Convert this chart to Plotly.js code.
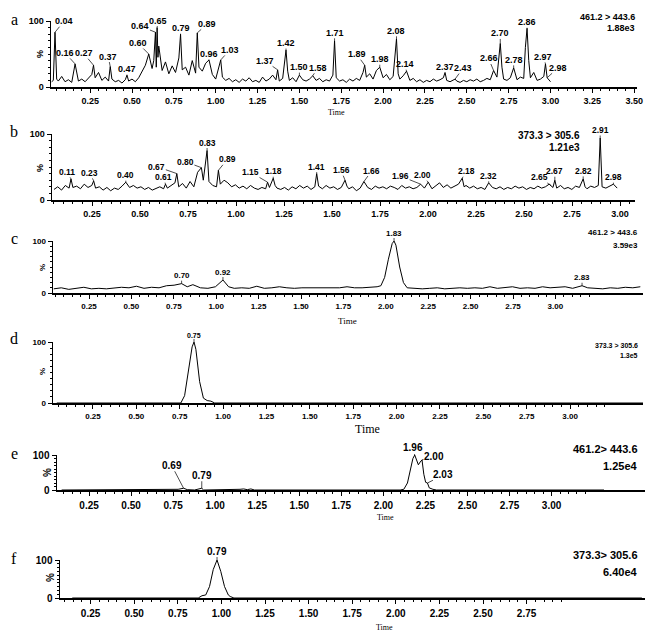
<!DOCTYPE html>
<html><head><meta charset="utf-8">
<script src="https://cdn.plot.ly/plotly-3.0.1.min.js"></script>
<style>html,body{margin:0;padding:0;background:#fff}#chart{width:646px;height:632px}</style>
</head><body><div id="chart"></div>
<script>
// ---------------- DATA ----------------
// Panel a: 461.2 > 443.6, 1.88e3
const aTime = [0.02,0.03,0.04,0.05,0.06,0.08,0.10,0.12,0.14,0.16,
 0.18,0.20,0.22,0.24,0.26,0.27,0.28,0.30,0.32,0.34,
 0.36,0.37,0.38,0.40,0.42,0.44,0.46,0.47,0.48,0.50,
 0.52,0.54,0.56,0.58,0.60,0.62,0.63,0.64,0.645,0.65,
 0.655,0.66,0.68,0.70,0.72,0.74,0.76,0.78,0.79,0.80,
 0.82,0.84,0.86,0.88,0.89,0.90,0.92,0.94,0.96,0.98,
 1.00,1.02,1.03,1.04,1.06,1.08,1.10,1.12,1.14,1.16,
 1.18,1.20,1.22,1.24,1.26,1.28,1.30,1.32,1.34,1.36,
 1.37,1.38,1.40,1.42,1.43,1.44,1.46,1.48,1.50,1.52,
 1.54,1.56,1.58,1.60,1.62,1.64,1.66,1.68,1.70,1.71,
 1.72,1.74,1.76,1.78,1.80,1.82,1.84,1.86,1.88,1.89,
 1.90,1.92,1.94,1.96,1.98,2.00,2.02,2.04,2.06,2.08,
 2.09,2.10,2.12,2.14,2.16,2.18,2.20,2.22,2.24,2.26,
 2.28,2.30,2.32,2.34,2.36,2.37,2.38,2.40,2.42,2.43,
 2.44,2.46,2.48,2.50,2.52,2.54,2.56,2.58,2.60,2.62,
 2.64,2.66,2.68,2.70,2.71,2.72,2.74,2.76,2.78,2.80,
 2.82,2.84,2.85,2.86,2.87,2.88,2.90,2.92,2.94,2.96,
 2.97,2.98,3.00];
const aInt = [8,10,83,12,9,16,8,11,7,35,
 9,12,8,13,19,33,14,22,10,15,
 9,31,12,8,10,6,11,18,9,12,
 8,14,24,33,50,28,40,83,30,90,
 45,62,25,38,20,32,22,44,80,26,
 30,18,40,21,82,30,24,36,41,19,
 12,30,41,15,10,13,8,11,7,12,
 9,14,8,10,7,15,9,12,18,11,
 26,9,13,56,24,10,14,8,18,11,
 9,12,17,10,13,8,11,9,18,70,
 14,9,11,7,12,9,13,10,22,33,
 15,20,12,25,30,14,19,11,16,73,
 20,12,17,24,10,13,8,11,7,10,
 8,12,9,11,14,22,10,8,11,12,
 9,7,10,8,11,9,12,8,10,13,
 11,25,15,66,30,12,10,14,29,11,
 15,13,60,89,40,14,22,10,12,16,
 35,14,8];
const aPeakLabels = ['0.04','0.16','0.27','0.37','0.47','0.60','0.64','0.65','0.79','0.89','0.96','1.03','1.37','1.42','1.50','1.58','1.71','1.89','1.98','2.08','2.14','2.37','2.43','2.66','2.70','2.78','2.86','2.97','2.98'];
const aTicks = ['0.25','0.50','0.75','1.00','1.25','1.50','1.75','2.00','2.25','2.50','2.75','3.00','3.25','3.50'];

// Panel b: 373.3 > 305.6, 1.21e3
const bTime = [0.02,0.04,0.06,0.08,0.10,0.11,0.12,0.14,0.16,0.18,
 0.20,0.22,0.23,0.24,0.26,0.28,0.30,0.32,0.34,0.36,
 0.38,0.40,0.42,0.44,0.46,0.48,0.50,0.52,0.54,0.56,
 0.58,0.60,0.61,0.62,0.64,0.66,0.67,0.68,0.70,0.72,
 0.74,0.76,0.78,0.80,0.81,0.82,0.83,0.84,0.86,0.88,
 0.89,0.90,0.92,0.94,0.96,0.98,1.00,1.02,1.04,1.06,
 1.08,1.10,1.12,1.14,1.15,1.16,1.18,1.19,1.20,1.22,
 1.24,1.26,1.28,1.30,1.32,1.34,1.36,1.38,1.40,1.41,
 1.42,1.44,1.46,1.48,1.50,1.52,1.54,1.56,1.57,1.58,
 1.60,1.62,1.64,1.66,1.68,1.70,1.72,1.74,1.76,1.78,
 1.80,1.82,1.84,1.86,1.88,1.90,1.92,1.94,1.96,1.98,
 2.00,2.02,2.04,2.06,2.08,2.10,2.12,2.14,2.16,2.18,
 2.19,2.20,2.22,2.24,2.26,2.28,2.30,2.32,2.34,2.36,
 2.38,2.40,2.42,2.44,2.46,2.48,2.50,2.52,2.54,2.56,
 2.58,2.60,2.62,2.64,2.65,2.66,2.67,2.68,2.70,2.72,
 2.74,2.76,2.78,2.80,2.82,2.83,2.84,2.86,2.88,2.90,
 2.91,2.92,2.94,2.96,2.98,3.00];
const bInt = [16,20,15,22,18,32,19,21,17,24,
 19,22,29,18,20,15,19,14,18,16,
 21,27,19,22,18,20,16,19,15,18,
 20,17,24,18,22,26,40,20,25,18,
 28,20,42,49,30,55,75,28,22,20,
 45,24,30,26,20,23,18,21,17,22,
 18,16,19,17,27,19,33,22,18,16,
 19,15,20,17,22,18,21,16,20,40,
 21,17,22,18,20,16,19,30,21,17,
 20,14,18,28,19,16,21,18,20,17,
 21,19,16,22,18,20,17,19,24,18,
 27,17,22,26,19,23,18,21,24,33,
 20,22,18,21,17,19,16,26,19,17,
 20,16,19,17,21,18,20,16,19,17,
 21,18,20,24,22,19,30,18,22,17,
 19,16,21,19,32,20,17,21,19,22,
 94,20,18,21,24,18];
const bPeakLabels = ['0.11','0.23','0.40','0.61','0.67','0.80','0.83','0.89','1.15','1.18','1.41','1.56','1.66','1.96','2.00','2.18','2.32','2.65','2.67','2.82','2.91','2.98'];
const bTicks = ['0.25','0.50','0.75','1.00','1.25','1.50','1.75','2.00','2.25','2.50','2.75','3.00'];

// Panel c: 461.2 > 443.6, 3.59e3
const cTime = [0.02,0.06,0.10,0.14,0.18,0.22,0.26,0.30,0.34,0.38,
 0.42,0.46,0.50,0.54,0.58,0.62,0.66,0.70,0.73,0.76,
 0.80,0.84,0.88,0.92,0.95,0.98,1.02,1.06,1.10,1.14,
 1.18,1.22,1.26,1.30,1.34,1.38,1.42,1.46,1.50,1.54,
 1.58,1.62,1.66,1.70,1.74,1.76,1.78,1.80,1.82,1.83,
 1.84,1.86,1.88,1.90,1.94,1.98,2.02,2.06,2.10,2.14,
 2.18,2.22,2.26,2.30,2.34,2.38,2.42,2.46,2.50,2.54,
 2.58,2.62,2.66,2.70,2.74,2.78,2.83,2.86,2.90,2.94,
 2.98,3.02,3.06,3.10,3.14];
const cInt = [8,10,7,9,11,8,9,8,10,11,
 10,13,9,11,10,14,15,18,12,16,
 10,9,12,25,12,9,10,9,13,9,
 10,12,10,9,10,10,9,10,9,10,
 12,10,10,11,12,14,30,65,95,100,
 92,50,20,10,9,8,9,10,8,9,
 10,9,10,9,12,9,10,12,9,10,
 9,12,10,11,12,9,14,10,9,8,
 10,9,11,10,12];
const cPeakLabels = ['0.70','0.92','1.83','2.83'];
const cTicks = ['0.25','0.50','0.75','1.00','1.25','1.50','1.75','2.00','2.25','2.50','2.75','3.00'];

// Panel d: 373.3 > 305.6, 1.3e5
const dTime = [0.02,0.68,0.70,0.72,0.74,0.75,0.76,0.78,0.80,0.82,0.84,0.86,3.14];
const dInt  = [0,0,12,55,92,100,88,35,8,4,3,0,0];
const dPeakLabels = ['0.75'];
const dTicks = ['0.25','0.50','0.75','1.00','1.25','1.50','1.75','2.00','2.25','2.50','2.75','3.00'];

// Panel e: 461.2 > 443.6, 1.25e4
const eTime = [0.02,0.08,0.09,0.10,0.30,0.31,0.32,0.58,0.60,0.62,
 0.66,0.69,0.71,0.75,0.79,0.80,0.90,0.93,0.95,1.00,
 1.02,1.04,1.06,1.08,1.88,1.90,1.92,1.94,1.95,1.96,
 1.97,1.98,1.99,2.00,2.01,2.02,2.03,2.04,2.06,2.08,
 3.00];
const eInt = [0,0,2,0,0,1,0,0,2,0,
 2,5,1,0,5,0,0,2,0,2,
 3,1,3,0,0,2,20,70,90,100,
 88,72,80,86,45,22,20,6,2,0,
 0];
const ePeakLabels = ['0.69','0.79','1.96','2.00','2.03'];
const eTicks = ['0.25','0.50','0.75','1.00','1.25','1.50','1.75','2.00','2.25','2.50','2.75','3.00'];

// Panel f: 373.3 > 305.6, 6.40e4
const fTime = [0.02,0.69,0.71,0.72,0.73,0.75,0.77,0.79,0.81,0.83,0.85,0.86,0.87,0.88,3.05];
const fInt  = [0,0,6,7,8,30,75,100,70,30,8,4,2,0,0];
const fPeakLabels = ['0.79'];
const fTicks = ['0.25','0.50','0.75','1.00','1.25','1.50','1.75','2.00','2.25','2.50','2.75'];

const channelText = ['461.2 &gt; 443.6','373.3 &gt; 305.6','461.2 &gt; 443.6','373.3 &gt; 305.6','461.2&gt; 443.6','373.3&gt; 305.6'];
const scaleText = ['1.88e3','1.21e3','3.59e3','1.3e5','1.25e4','6.40e4'];
const panelLetters = ['a','b','c','d','e','f'];

// ---------------- LAYOUT / STYLE ----------------
const W = 646, H = 632;
const NARROW = '"Liberation Sans Narrow", "Liberation Sans", Arial, sans-serif';
const SERIF = '"Liberation Serif", "Times New Roman", serif';

const panels = [
 {time:aTime, inten:aInt, labels:aPeakLabels, ticks:aTicks,
  left:51, right:637, top:21, bottom:87, x0:48.3, s:167.4, tx0:48.3, ts:167.4, fs:9, lfs:9,
  dx:[9,-10,-10,-2,0,-11,-15,1,0,10,0,9,-13,0,0,5,0,-8,0,0,-2,0,8,-5,0,0,0,-2,11],
  dy:[-11,-11,-12,-10,-6,-11,-6,-7,-6,-9,-6,-10,-9,-7,-8,-8,-8,-11,-8,-8,-7,-5,-11,-12,-10,-8,-6,-7,-10],
  letter:[14,19], pct:[40,54], chan:[637,17], scale:[637,28], tfs:9},
 {time:bTime, inten:bInt, labels:bPeakLabels, ticks:bTicks,
  left:52, right:635, top:134, bottom:200, x0:50.2, s:189, tx0:44, ts:192, fs:9, lfs:8.5,
  dx:[-4,-4,0,-2,-20,-16,0,9,-17,0,0,-4,8,-20,-6,4,0,-12,0,0,0,0],
  dy:[-7,-8,-7,-7,-7,-6,-8,-11,-10,-7,-7,-10,-11,-8,-7,-7,-7,-8,-9,-8,-8,-7],
  letter:[14,131], pct:[40,168], chan:[582,135], scale:[582,147], tfs:10},
 {time:cTime, inten:cInt, labels:cPeakLabels, ticks:cTicks,
  left:53, right:643, top:241, bottom:293, x0:50, s:188, tx0:46.6, ts:169.6, fs:8, lfs:8,
  dx:[0,0,0,0], dy:[-8,-8,-8,-8],
  letter:[14,238], pct:[42,268], chan:[640,233], scale:[640,245], tfs:8},
 {time:dTime, inten:dInt, labels:dPeakLabels, ticks:dTicks,
  left:53, right:643, top:342, bottom:403, x0:53, s:188, tx0:49.6, ts:173.5, fs:8, lfs:7,
  dx:[0], dy:[-7],
  letter:[14,338], pct:[42,372], chan:[640,345], scale:[640,355], tfs:7},
 {time:eTime, inten:eInt, labels:ePeakLabels, ticks:eTicks,
  left:57, right:645, top:455, bottom:490, x0:58, s:182, tx0:47, ts:168.2, fs:10, lfs:10,
  dx:[-12,0,-2,12,16], dy:[-23,-13,-7,-3,-8],
  letter:[14,453], pct:[47,472], chan:[640,449], scale:[640,466], tfs:11},
 {time:fTime, inten:fInt, labels:fPeakLabels, ticks:fTicks,
  left:60, right:645, top:560, bottom:598, x0:68.5, s:188, tx0:47, ts:174.4, fs:10, lfs:10,
  dx:[0], dy:[-9],
  letter:[14,558], pct:[50,578], chan:[640,555], scale:[640,572], tfs:11}
];
// x-axis "Time" titles: [x, y, size] per panel (panel b has none)
const timeTitles = [[336,112,8],null,[347,321,9],[367,429,12],[385,517,8],[384,627,8]];

const px = v => v / W;
const py = v => 1 - v / H;

const traces = [];
const layout = {
  width: W, height: H, autosize: false,
  margin: {l:0, r:0, t:0, b:0},
  paper_bgcolor: '#fff', plot_bgcolor: 'rgba(0,0,0,0)',
  showlegend: false,
  annotations: []
};

panels.forEach((p, i) => {
  const n = i + 1;
  const xs = n === 1 ? '' : String(n);
  const xr = 'x' + xs, yr = 'y' + xs;
  traces.push({
    type: 'scatter', mode: 'lines', x: p.time, y: p.inten,
    xaxis: xr, yaxis: yr,
    line: {color: '#000', width: 1}, hoverinfo: 'skip'
  });
  const tickPos = L => (p.tx0 + p.ts * L - p.x0) / p.s;
  const lab = p.ticks.map(t => parseFloat(t));
  const maxL = lab[lab.length - 1] + 0.3;
  const minorVals = [];
  for (let k = 1; k * 0.05 <= maxL; k++) {
    if (k % 5 !== 0) minorVals.push(tickPos(k * 0.05));
  }
  const range = [(p.left - p.x0) / p.s, (p.right - p.x0) / p.s];
  layout['xaxis' + xs] = {
    domain: [px(p.left), px(p.right)], range: range, anchor: yr,
    showline: true, linewidth: 1.5, linecolor: '#000', mirror: false,
    ticks: 'outside', ticklen: 4, tickwidth: 1, tickcolor: '#000',
    tickmode: 'array', tickvals: lab.map(tickPos), ticktext: p.ticks,
    ticklabelstandoff: 1,
    tickfont: {family: NARROW, size: p.fs, color: '#000', weight: 'bold'},
    minor: {tickmode: 'array', tickvals: minorVals, ticks: 'outside', ticklen: 2, tickwidth: 1, tickcolor: '#000', showgrid: false},
    showgrid: false, zeroline: false, fixedrange: true
  };
  layout['yaxis' + xs] = {
    domain: [py(p.bottom), py(p.top)], range: [0, 100], anchor: xr,
    showline: true, linewidth: 1.5, linecolor: '#000',
    ticks: 'outside', ticklen: 4, tickwidth: 1, tickcolor: '#000',
    tickmode: 'array', tickvals: [0, 100], ticktext: ['0', '100'],
    ticklabelstandoff: 0,
    tickfont: {family: NARROW, size: p.fs, color: '#000', weight: 'bold'},
    minor: {tickmode: 'linear', tick0: 0, dtick: 10, ticks: 'outside', ticklen: 2, tickwidth: 1, tickcolor: '#000', showgrid: false},
    showgrid: false, zeroline: false, fixedrange: true
  };
  p.labels.forEach((txt, j) => {
    const t = parseFloat(txt);
    const idx = p.time.findIndex(v => Math.abs(v - t) < 1e-9);
    const yv = idx >= 0 ? p.inten[idx] : 0;
    layout.annotations.push({
      xref: xr, yref: yr, x: t, y: yv, text: txt,
      showarrow: true, arrowhead: 0, arrowwidth: 0.7, arrowcolor: '#000', standoff: 0,
      ax: p.dx[j], ay: p.dy[j],
      font: {family: NARROW, size: p.lfs, color: '#000', weight: 'bold'},
      borderpad: 0
    });
  });
  layout.annotations.push({xref:'paper', yref:'paper', x: px(p.letter[0]), y: py(p.letter[1]),
    xanchor:'center', yanchor:'middle', showarrow:false, text: panelLetters[i],
    font:{family: SERIF, size: 16, color:'#000'}});
  layout.annotations.push({xref:'paper', yref:'paper', x: px(p.pct[0]), y: py(p.pct[1]),
    xanchor:'center', yanchor:'middle', showarrow:false, text:'%', textangle:-90,
    font:{family: NARROW, size: p.fs, color:'#000', weight:'bold'}});
  layout.annotations.push({xref:'paper', yref:'paper', x: px(p.chan[0]), y: py(p.chan[1]),
    xanchor:'right', yanchor:'middle', showarrow:false, text: channelText[i],
    font:{family: NARROW, size: p.tfs, color:'#000', weight:'bold'}});
  layout.annotations.push({xref:'paper', yref:'paper', x: px(p.scale[0]), y: py(p.scale[1]),
    xanchor:'right', yanchor:'middle', showarrow:false, text: scaleText[i],
    font:{family: NARROW, size: p.tfs, color:'#000', weight:'bold'}});
  const tt = timeTitles[i];
  if (tt) {
    layout.annotations.push({xref:'paper', yref:'paper', x: px(tt[0]), y: py(tt[1]),
      xanchor:'center', yanchor:'middle', showarrow:false, text:'Time',
      font:{family: SERIF, size: tt[2], color:'#000'}});
  }
});

Plotly.newPlot('chart', traces, layout, {staticPlot: true, displayModeBar: false});
</script>
</body></html>
